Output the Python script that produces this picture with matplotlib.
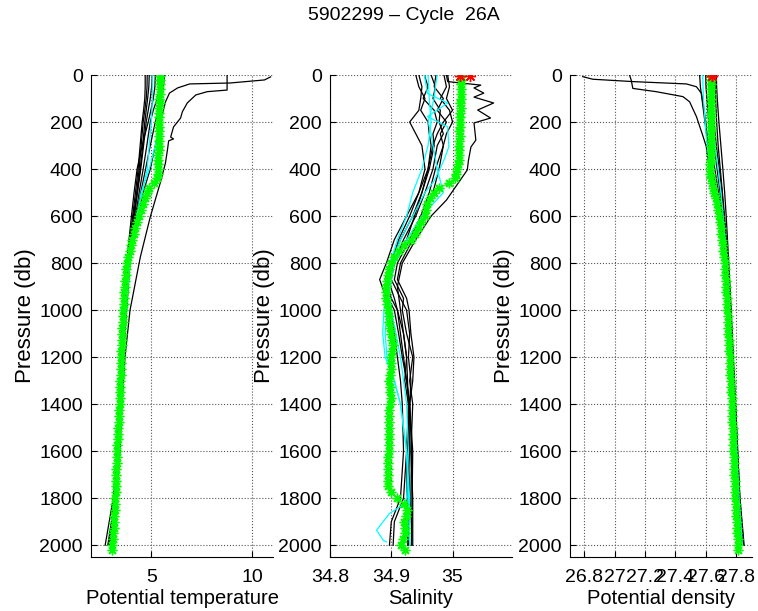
import numpy as np
import matplotlib
matplotlib.use("Agg")
import matplotlib.pyplot as plt

plt.rcParams['font.family'] = ['Liberation Sans', 'DejaVu Sans']

title = "5902299 \u2013 Cycle  26A"

# ---------------- data ----------------
# pressure levels of the current profile (green)
p_green = [5, 20, 40, 60, 80, 100, 120, 140, 160, 180,
           200, 220, 240, 260, 280, 300, 320, 340, 360, 380,
           400, 420, 440, 460, 480,
           500, 525, 550, 575, 600, 625, 650, 675, 700, 725,
           750, 775, 800, 825, 850, 875, 900, 925, 950, 975,
           1000, 1025, 1050, 1075, 1100, 1125, 1150, 1175, 1200, 1225,
           1250, 1275, 1300, 1325, 1350, 1375, 1400, 1425, 1450, 1475,
           1500, 1525, 1550, 1575, 1600, 1625, 1650, 1675, 1700, 1725,
           1750, 1775, 1800, 1825, 1850, 1875, 1900, 1925, 1950, 1975,
           2000, 2020]
t_green = [5.42, 5.42, 5.41, 5.42, 5.41, 5.40, 5.41, 5.40, 5.40, 5.39,
           5.40, 5.39, 5.38, 5.38, 5.37, 5.38, 5.36, 5.35, 5.34, 5.33,
           5.32, 5.31, 5.28, 5.15, 4.88,
           4.78, 4.68, 4.58, 4.48, 4.38, 4.30, 4.22, 4.14, 4.07, 4.00,
           3.93, 3.86, 3.80, 3.77, 3.74, 3.72, 3.70, 3.67, 3.65, 3.63,
           3.62, 3.60, 3.59, 3.57, 3.56, 3.54, 3.53, 3.52, 3.51, 3.50,
           3.49, 3.48, 3.47, 3.46, 3.45, 3.44, 3.43, 3.41, 3.40, 3.38,
           3.37, 3.35, 3.34, 3.32, 3.31, 3.30, 3.29, 3.28, 3.27, 3.26,
           3.25, 3.24, 3.23, 3.21, 3.20, 3.18, 3.16, 3.14, 3.12, 3.10,
           3.08, 3.06]
s_green = [35.013, 35.013, 35.014, 35.013, 35.013, 35.013, 35.012, 35.013, 35.012, 35.012,
           35.012, 35.012, 35.011, 35.012, 35.011, 35.011, 35.011, 35.010, 35.011, 35.009,
           35.008, 35.006, 35.004, 34.995, 34.978,
           34.969, 34.963, 34.959, 34.957, 34.955, 34.949, 34.943, 34.938, 34.932, 34.921,
           34.912, 34.905, 34.899, 34.896, 34.894, 34.893, 34.892, 34.891, 34.892, 34.893,
           34.895, 34.896, 34.897, 34.898, 34.899, 34.901, 34.903, 34.901, 34.900, 34.900,
           34.900, 34.898, 34.897, 34.898, 34.898, 34.899, 34.898, 34.897, 34.897, 34.897,
           34.897, 34.896, 34.896, 34.896, 34.896, 34.895, 34.895, 34.895, 34.895, 34.894,
           34.895, 34.900, 34.910, 34.920, 34.926, 34.924, 34.921, 34.922, 34.923, 34.919,
           34.916, 34.923]
d_green = [27.638, 27.638, 27.637, 27.637, 27.636, 27.636, 27.636, 27.635, 27.635, 27.635,
           27.634, 27.634, 27.634, 27.633, 27.633, 27.633, 27.632, 27.632, 27.632, 27.631,
           27.631, 27.631, 27.632, 27.642, 27.650,
           27.657, 27.665, 27.672, 27.679, 27.686, 27.692, 27.698, 27.703, 27.708, 27.713,
           27.717, 27.721, 27.725, 27.728, 27.730, 27.733, 27.735, 27.737, 27.739, 27.741,
           27.743, 27.745, 27.746, 27.748, 27.750, 27.752, 27.754, 27.756, 27.757, 27.759,
           27.761, 27.763, 27.764, 27.766, 27.768, 27.770, 27.771, 27.773, 27.774, 27.776,
           27.777, 27.779, 27.780, 27.782, 27.783, 27.785, 27.786, 27.788, 27.789, 27.791,
           27.792, 27.794, 27.795, 27.797, 27.799, 27.801, 27.803, 27.805, 27.808, 27.811,
           27.814, 27.816]

# surface values (red)
p_red = [3, 3]
s_red = [35.012, 35.029]
d_red = [27.642, 27.640]

# historical profiles, temperature
p_t = [0, 50, 100, 150, 200, 300, 400, 500, 600, 700, 800, 1000, 1200, 1400, 1600, 1800, 2000]
t_black = [
    [4.70, 4.70, 4.68, 4.62, 4.55, 4.45, 4.35, 4.22, 4.08, 3.95, 3.82, 3.62, 3.50, 3.42, 3.32, 3.18, 2.95],
    [4.80, 4.79, 4.75, 4.68, 4.60, 4.50, 4.40, 4.28, 4.12, 3.98, 3.85, 3.66, 3.53, 3.44, 3.35, 3.22, 2.85],
    [5.05, 5.02, 4.95, 4.85, 4.75, 4.62, 4.48, 4.32, 4.15, 4.00, 3.87, 3.70, 3.56, 3.46, 3.38, 3.25, 3.00],
    [5.50, 5.45, 5.30, 5.10, 4.95, 4.78, 4.60, 4.40, 4.22, 4.06, 3.92, 3.75, 3.60, 3.50, 3.40, 3.28, 3.05],
    [5.65, 5.60, 5.50, 5.35, 5.20, 4.95, 4.72, 4.48, 4.28, 4.10, 3.95, 3.78, 3.62, 3.52, 3.42, 3.30, 3.10],
    [5.20, 5.18, 5.10, 4.98, 4.85, 4.55, 4.30, 4.15, 4.02, 3.90, 3.78, 3.60, 3.48, 3.40, 3.30, 3.12, 2.72],
    [4.90, 4.88, 4.82, 4.75, 4.68, 4.58, 4.45, 4.30, 4.16, 4.02, 3.90, 3.72, 3.58, 3.48, 3.37, 3.20, 2.90],
]
t_cyan = [
    [5.05, 5.05, 5.05, 5.03, 5.00, 4.90, 4.80, 4.55, 4.30, 4.10, 3.92, 3.72, 3.56, 3.45, 3.36, 3.26, 3.00],
    [5.58, 5.55, 5.50, 5.45, 5.40, 5.20, 4.90, 4.50, 4.30, 4.10, 3.95, 3.75, 3.60, 3.50, 3.42, 3.30, 3.10],
]
p_warm1 = [8, 21, 34, 38, 55, 77, 115, 149, 200, 300, 400, 500, 600, 800, 1000, 1200, 1400, 1600, 1800, 2000]
t_warm1 = [10.9, 10.6, 8.9, 6.9, 6.3, 5.9, 5.7, 5.6, 5.45, 5.2, 4.95, 4.6, 4.35, 3.92, 3.72, 3.58, 3.48, 3.38, 3.25, 3.00]
p_warm2 = [0, 64, 71, 85, 119, 156, 183, 221, 264, 272, 280, 319, 375, 460, 604, 774, 1000, 1200, 1400, 1600, 1800, 2000]
t_warm2 = [8.75, 8.75, 7.76, 7.2, 6.78, 6.54, 6.45, 6.1, 5.96, 6.10, 5.86, 5.8, 5.7, 5.44, 4.95, 4.46, 3.95, 3.70, 3.55, 3.45, 3.30, 3.05]

# historical profiles, salinity
p_s = [0, 50, 100, 150, 200, 250, 300, 400, 500, 600, 700, 800, 870, 950, 1000, 1100,
       1200, 1300, 1400, 1600, 1800, 1900, 2000]
s_black = [
    [34.940, 34.945, 34.955, 34.948, 34.960, 34.962, 34.965, 34.960, 34.945, 34.925, 34.905, 34.892,
     34.881, 34.892, 34.900, 34.905, 34.910, 34.915, 34.918, 34.920, 34.915, 34.900, 34.897],
    [34.954, 34.960, 34.952, 34.970, 34.975, 34.968, 34.970, 34.962, 34.950, 34.935, 34.915, 34.898,
     34.890, 34.900, 34.910, 34.920, 34.925, 34.922, 34.928, 34.925, 34.920, 34.905, 34.903],
    [34.965, 34.972, 34.968, 34.980, 34.978, 34.985, 34.975, 34.968, 34.955, 34.940, 34.920, 34.905,
     34.900, 34.915, 34.925, 34.930, 34.928, 34.932, 34.930, 34.928, 34.930, 34.925, 34.927],
    [34.973, 34.970, 34.985, 34.975, 34.990, 34.980, 34.985, 34.972, 34.962, 34.948, 34.930, 34.910,
     34.905, 34.920, 34.918, 34.925, 34.935, 34.930, 34.935, 34.932, 34.935, 34.935, 34.935],
    [34.986, 34.990, 34.980, 34.995, 35.000, 34.990, 34.985, 34.978, 34.968, 34.955, 34.935, 34.915,
     34.910, 34.925, 34.929, 34.932, 34.937, 34.935, 34.930, 34.926, 34.925, 34.928, 34.930],
    [34.992, 34.995, 34.990, 35.000, 34.985, 34.975, 34.968, 34.960, 34.950, 34.938, 34.925, 34.905,
     34.895, 34.905, 34.910, 34.915, 34.920, 34.925, 34.930, 34.933, 34.932, 34.930, 34.928],
    [34.945, 34.950, 34.948, 34.945, 34.930, 34.940, 34.950, 34.955, 34.945, 34.930, 34.912, 34.900,
     34.893, 34.895, 34.905, 34.912, 34.918, 34.925, 34.930, 34.935, 34.934, 34.933, 34.933],
]
p_salty = [0, 28, 43, 55, 77, 94, 119, 149, 183, 204, 277, 306, 362, 404, 532, 600, 700, 800,
           900, 1000, 1200, 1400, 1600, 1800, 2000]
s_salty = [34.990, 34.992, 35.046, 35.035, 35.051, 35.035, 35.067, 35.041, 35.062, 35.035, 35.038,
           35.030, 35.026, 35.024, 34.990, 34.965, 34.940, 34.918, 34.910, 34.915, 34.925, 34.928,
           34.930, 34.925, 34.920]
p_cyan_s1 = [0, 78, 119, 177, 220, 305, 362, 450, 500, 600, 700, 800, 900, 1000, 1100, 1200, 1300,
             1400, 1600, 1800, 2000]
s_cyan_s1 = [34.954, 34.959, 34.992, 34.959, 34.992, 34.994, 34.986, 34.970, 34.955, 34.935, 34.915,
             34.900, 34.895, 34.888, 34.886, 34.890, 34.905, 34.915, 34.925, 34.928, 34.930]
p_cyan_s2 = [0, 100, 200, 300, 400, 500, 600, 700, 800, 900, 1000, 1200, 1400, 1600, 1800, 1823,
             1865, 1936, 1979, 1986]
s_cyan_s2 = [34.960, 34.962, 34.965, 34.960, 34.950, 34.935, 34.925, 34.910, 34.898, 34.895, 34.900,
             34.915, 34.925, 34.928, 34.925, 34.922, 34.897, 34.876, 34.887, 34.892]
s_cyan_s3 = [34.975, 34.972, 34.970, 34.965, 34.960, 34.965, 34.968, 34.975, 34.985, 34.950, 34.925,
             34.905, 34.900, 34.895, 34.893, 34.890, 34.893, 34.905, 34.915, 34.925, 34.930, 34.930, 34.930]

# historical profiles, potential density
p_d = [0, 50, 100, 200, 300, 400, 500, 600, 800, 1000, 1200, 1400, 1600, 1800, 2000]
d_black = [
    [27.560, 27.565, 27.575, 27.595, 27.615, 27.645, 27.672, 27.698, 27.735, 27.755, 27.772, 27.787, 27.802, 27.818, 27.843],
    [27.600, 27.602, 27.608, 27.620, 27.635, 27.660, 27.685, 27.708, 27.742, 27.760, 27.776, 27.790, 27.806, 27.822, 27.848],
    [27.660, 27.662, 27.665, 27.672, 27.682, 27.696, 27.710, 27.724, 27.748, 27.765, 27.780, 27.795, 27.810, 27.826, 27.853],
    [27.670, 27.672, 27.676, 27.687, 27.700, 27.713, 27.725, 27.735, 27.752, 27.768, 27.782, 27.797, 27.811, 27.824, 27.850],
    [27.640, 27.642, 27.645, 27.655, 27.670, 27.690, 27.708, 27.720, 27.745, 27.762, 27.778, 27.792, 27.807, 27.821, 27.846],
    [27.620, 27.622, 27.628, 27.640, 27.655, 27.675, 27.695, 27.712, 27.738, 27.757, 27.773, 27.788, 27.803, 27.819, 27.845],
]
d_cyan = [
    [27.630, 27.632, 27.635, 27.645, 27.660, 27.682, 27.700, 27.715, 27.740, 27.758, 27.774, 27.789, 27.804, 27.820, 27.842],
]
p_light1 = [7, 18, 28, 38, 50, 78, 150, 300, 500, 800, 1200, 1600, 2000]
d_light1 = [26.790, 26.856, 27.119, 27.473, 27.539, 27.572, 27.590, 27.618, 27.668, 27.727, 27.764, 27.795, 27.838]
p_light2 = [0, 21, 57, 71, 92, 114, 177, 262, 305, 400, 500, 600, 800, 1000, 1200, 1400, 1600, 1800, 2000]
d_light2 = [27.098, 27.109, 27.120, 27.275, 27.450, 27.494, 27.539, 27.583, 27.604, 27.625, 27.650,
            27.680, 27.720, 27.742, 27.760, 27.776, 27.790, 27.806, 27.832]
p_cyan_d = [0, 100, 264, 400, 500, 600, 800, 1000, 1200, 1400, 1600, 1800, 2000]
d_cyan_d = [27.580, 27.585, 27.604, 27.630, 27.660, 27.688, 27.727, 27.746, 27.762, 27.778, 27.792, 27.808, 27.830]

# ---------------- figure ----------------
W, H = 758, 611
fig = plt.figure(figsize=(W / 100, H / 100), dpi=100)

def px_axes(x0, x1, y0=75, y1=557):
    return fig.add_axes([x0 / W, 1 - y1 / H, (x1 - x0) / W, (y1 - y0) / H])

ax1 = px_axes(91, 273)
ax2 = px_axes(330, 512)
ax3 = px_axes(570, 752)

star = (8, 2, 0)
lw = 0.9

# temperature
for t in t_black:
    ax1.plot(t, p_t, color='k', lw=lw)
ax1.plot(t_warm1, p_warm1, color='k', lw=lw)
ax1.plot(t_warm2, p_warm2, color='k', lw=lw)
for t in t_cyan:
    ax1.plot(t, p_t, color='cyan', lw=lw)
ax1.plot(t_green, p_green, color='lime', lw=0.8, marker=star, ms=7, mew=1.0)

# salinity
for s in s_black:
    ax2.plot(s, p_s, color='k', lw=lw)
ax2.plot(s_salty, p_salty, color='k', lw=lw)
ax2.plot(s_cyan_s1, p_cyan_s1, color='cyan', lw=lw)
ax2.plot(s_cyan_s2, p_cyan_s2, color='cyan', lw=lw)
ax2.plot(s_cyan_s3, p_s, color='cyan', lw=lw)
ax2.plot(s_green, p_green, color='lime', lw=0.8, marker=star, ms=7, mew=1.0)
ax2.plot(s_red, p_red, ls='none', color='red', marker=star, ms=8, mew=1.0)

# density
for d in d_black:
    ax3.plot(d, p_d, color='k', lw=lw)
ax3.plot(d_light1, p_light1, color='k', lw=lw)
ax3.plot(d_light2, p_light2, color='k', lw=lw)
for d in d_cyan:
    ax3.plot(d, p_d, color='cyan', lw=lw)
ax3.plot(d_cyan_d, p_cyan_d, color='cyan', lw=lw)
ax3.plot(d_green, p_green, color='lime', lw=0.8, marker=star, ms=7, mew=1.0)
ax3.plot(d_red, p_red, ls='none', color='red', marker=star, ms=8, mew=1.0)

ax1.set_xlim(2.02, 11.02)
ax1.set_xticks([5, 10])
ax1.set_xticklabels(['5', '10'])
ax2.set_xlim(34.8, 35.097)
ax2.set_xticks([34.8, 34.9, 35.0])
ax2.set_xticklabels(['34.8', '34.9', '35'])
ax3.set_xlim(26.706, 27.905)
ax3.set_xticks([26.8, 27.0, 27.2, 27.4, 27.6, 27.8])
ax3.set_xticklabels(['26.8', '27', '27.2', '27.4', '27.6', '27.8'])

xlabels = ['Potential temperature', 'Salinity', 'Potential density']
for ax, xl in zip([ax1, ax2, ax3], xlabels):
    ax.set_ylim(2050, 0)
    ax.set_yticks(np.arange(0, 2001, 200))
    ax.spines['top'].set_visible(False)
    ax.spines['right'].set_visible(False)
    ax.grid(True, linestyle=':', color='#555555', lw=0.8)
    ax.tick_params(direction='in', length=4, labelsize=14)
    ax.tick_params(axis='x', pad=9)
    ax.tick_params(axis='y', pad=6)
    ax.set_xlabel(xl, fontsize=14.5, labelpad=2)
    ax.set_ylabel('Pressure (db)', fontsize=16, labelpad=2)

fig.text(404 / W, 1 - 15 / H, title, ha='center', va='center', fontsize=14)

fig.savefig('out.png', dpi=100)
